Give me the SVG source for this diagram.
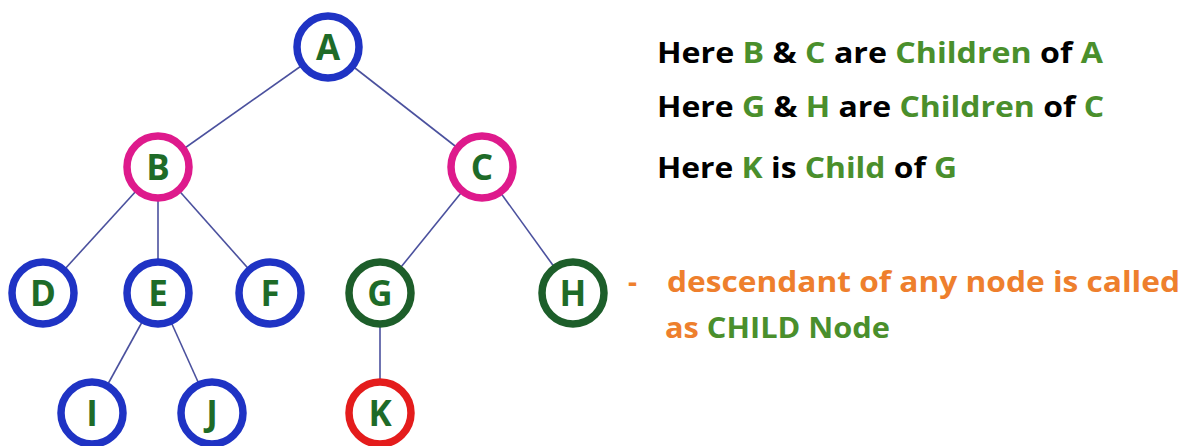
<svg xmlns="http://www.w3.org/2000/svg" width="1189" height="446" viewBox="0 0 1189 446">
  <style>
    .edge { stroke: #4b519e; stroke-width: 1.6; fill: none; }
    .node circle { fill: #ffffff; stroke-width: 7.5; }
    .blue circle { stroke: #1f33c4; }
    .pink circle { stroke: #de1a8c; }
    .dgreen circle { stroke: #1d5e2a; }
    .red circle { stroke: #e41c1c; }
    .node text { font-family: "Open Sans", "Liberation Sans", sans-serif; font-weight: bold; font-size: 35px; fill: #1e6b28; text-anchor: middle; }
    .note { font-family: "Open Sans", "Liberation Sans", sans-serif; font-weight: bold; font-size: 28px; }
    .k { fill: #000000; }
    .g { fill: #4a8f2c; }
    .o { fill: #ee7f2d; }
  </style>
  <rect width="1189" height="446" fill="#ffffff"/>

  <!-- tree edges -->
  <g id="edges">
    <line class="edge" x1="328" y1="47" x2="158" y2="167"/>
    <line class="edge" x1="328" y1="47" x2="482" y2="167"/>
    <line class="edge" x1="158" y1="167" x2="43" y2="293"/>
    <line class="edge" x1="158" y1="167" x2="158" y2="293"/>
    <line class="edge" x1="158" y1="167" x2="270" y2="293"/>
    <line class="edge" x1="482" y1="167" x2="380" y2="293"/>
    <line class="edge" x1="482" y1="167" x2="573" y2="293"/>
    <line class="edge" x1="158" y1="293" x2="92" y2="413"/>
    <line class="edge" x1="158" y1="293" x2="212" y2="413"/>
    <line class="edge" x1="380" y1="293" x2="380" y2="413"/>
  </g>

  <!-- tree nodes -->
  <g id="node-A" class="node blue"><circle cx="328" cy="47" r="31"/><text x="328" y="60">A</text></g>
  <g id="node-B" class="node pink"><circle cx="158" cy="167" r="31"/><text x="158" y="180">B</text></g>
  <g id="node-C" class="node pink"><circle cx="482" cy="167" r="31"/><text x="482" y="180">C</text></g>
  <g id="node-D" class="node blue"><circle cx="43" cy="293" r="31"/><text x="43" y="306">D</text></g>
  <g id="node-E" class="node blue"><circle cx="158" cy="293" r="31"/><text x="158" y="306">E</text></g>
  <g id="node-F" class="node blue"><circle cx="270" cy="293" r="31"/><text x="270" y="306">F</text></g>
  <g id="node-G" class="node dgreen"><circle cx="380" cy="293" r="31"/><text x="380" y="306">G</text></g>
  <g id="node-H" class="node dgreen"><circle cx="573" cy="293" r="31"/><text x="573" y="306">H</text></g>
  <g id="node-I" class="node blue"><circle cx="92" cy="413" r="31"/><text x="92" y="426">I</text></g>
  <g id="node-J" class="node blue"><circle cx="212" cy="413" r="31"/><text x="212" y="426">J</text></g>
  <g id="node-K" class="node red"><circle cx="380" cy="413" r="31"/><text x="380" y="426">K</text></g>

  <!-- notes -->
  <g id="notes">
    <text class="note" x="657" y="63" textLength="446" lengthAdjust="spacingAndGlyphs"><tspan class="k">Here </tspan><tspan class="g">B</tspan><tspan class="k"> &amp; </tspan><tspan class="g">C</tspan><tspan class="k"> are </tspan><tspan class="g">Children</tspan><tspan class="k"> of </tspan><tspan class="g">A</tspan></text>
    <text class="note" x="657" y="117" textLength="447" lengthAdjust="spacingAndGlyphs"><tspan class="k">Here </tspan><tspan class="g">G</tspan><tspan class="k"> &amp; </tspan><tspan class="g">H</tspan><tspan class="k"> are </tspan><tspan class="g">Children</tspan><tspan class="k"> of </tspan><tspan class="g">C</tspan></text>
    <text class="note" x="657" y="178" textLength="300" lengthAdjust="spacingAndGlyphs"><tspan class="k">Here </tspan><tspan class="g">K</tspan><tspan class="k"> is </tspan><tspan class="g">Child</tspan><tspan class="k"> of </tspan><tspan class="g">G</tspan></text>
    <text class="note o" x="628" y="292">-</text>
    <text class="note o" x="667" y="292" textLength="513" lengthAdjust="spacingAndGlyphs">descendant of any node is called</text>
    <text class="note" x="665" y="338" textLength="225" lengthAdjust="spacingAndGlyphs"><tspan class="o">as </tspan><tspan class="g">CHILD Node</tspan></text>
  </g>
</svg>
